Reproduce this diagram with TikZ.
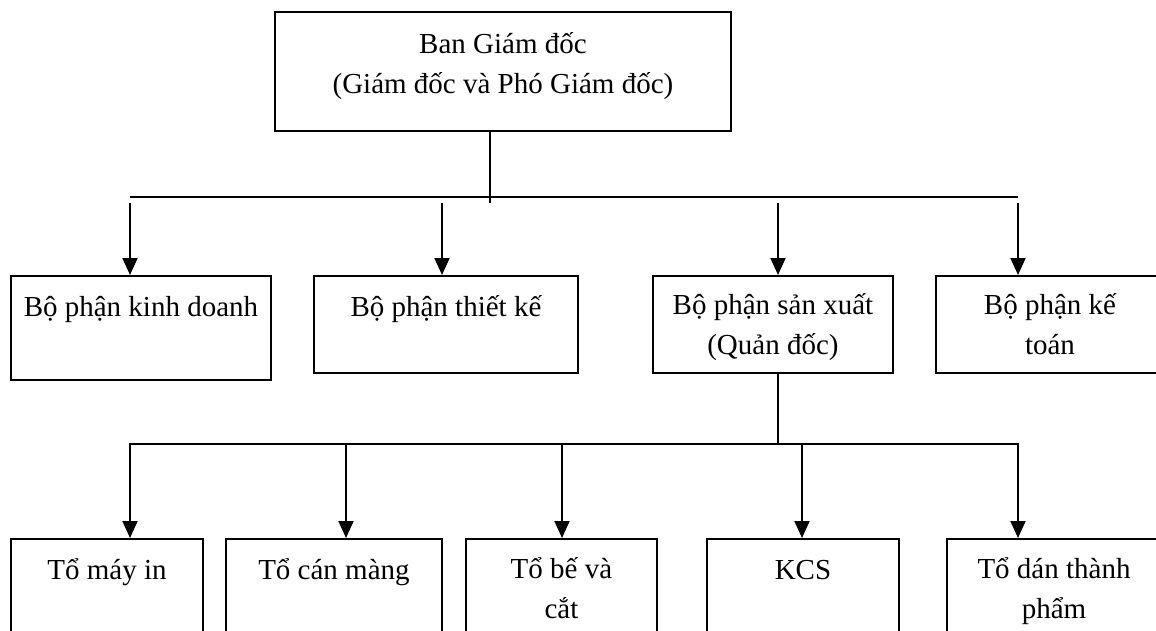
\documentclass[tikz,border=0pt]{standalone}
\usepackage{fontspec}
\setmainfont{Liberation Serif}
\usetikzlibrary{arrows.meta}

\begin{document}
\begin{tikzpicture}[x=1pt,y=-1pt,>={Triangle[length=17pt,width=15pt]},
    box/.style={draw=black,line width=1.9pt,inner sep=0pt,anchor=north west},
    txt/.style={align=center,inner sep=0pt,anchor=base,font=\fontsize{29}{40}\selectfont},
    conn/.style={line width=1.9pt}]
  \useasboundingbox (0,0) rectangle (1156,631);
  \clip (0,0) rectangle (1156,631);
  % ban giam doc
  \node[box,minimum width=456pt,minimum height=119pt] (bgd) at (274,11) {};
  \node[txt] (bgdt) at ([yshift=-83pt]bgd.north) {Ban Giám đốc\\(Giám đốc và Phó Giám đốc)};
  % cac bo phan
  \node[box,minimum width=260pt,minimum height=104pt] (kd) at (10,275) {};
  \node[box,minimum width=264pt,minimum height=97pt] (tk) at (313,275) {};
  \node[box,minimum width=240pt,minimum height=97pt] (sx) at (652,275) {};
  \node[box,minimum width=240pt,minimum height=97pt] (kt) at (935,275) {};
  \node[txt] (kdt) at ([yshift=-41pt]kd.north) {Bộ phận kinh doanh};
  \node[txt] (tkt) at ([yshift=-41pt]tk.north) {Bộ phận thiết kế};
  \node[txt] (sxt) at ([yshift=-79pt]sx.north) {Bộ phận sản xuất\\(Quản đốc)};
  \node[txt] (ktt) at ([yshift=-79pt]kt.north -| 1050,0) {Bộ phận kế\\toán};
  % cac to
  \node[box,minimum width=192pt,minimum height=130pt] (mi) at (10,538) {};
  \node[box,minimum width=216pt,minimum height=130pt] (cm) at (225,538) {};
  \node[box,minimum width=191pt,minimum height=130pt] (bc) at (465,538) {};
  \node[box,minimum width=192pt,minimum height=130pt] (kcs) at (706,538) {};
  \node[box,minimum width=230pt,minimum height=130pt] (dtp) at (946,538) {};
  \node[txt] (mit) at ([yshift=-41pt]mi.north) {Tổ máy in};
  \node[txt] (cmt) at ([yshift=-41pt]cm.north) {Tổ cán màng};
  \node[txt] (bct) at ([yshift=-80pt]bc.north) {Tổ bế và\\cắt};
  \node[txt] (kcst) at ([yshift=-41pt]kcs.north) {KCS};
  \node[txt] (dtpt) at ([yshift=-80pt]dtp.north -| 1054,0) {Tổ dán thành\\phẩm};
  % duong noi
  \coordinate (j1) at (490,197);
  \coordinate (j2) at (778,444);
  \draw[conn] (bgd.south -| j1) -- ([yshift=-6pt]j1);
  \draw[conn] (130,197) -- (1018,197);
  \foreach \n/\x in {kd/130,tk/442,sx/778,kt/1018}
    \draw[conn,->] (\x,203) -- (\n.north -| \x,0);
  \draw[conn] (sx.south -| j2) -- (j2);
  \draw[conn] (130,444) -- (1018,444);
  \foreach \n/\x in {mi/130,cm/346,bc/562,kcs/802,dtp/1018}
    \draw[conn,->] (\x,443) -- (\n.north -| \x,0);
\end{tikzpicture}
\end{document}
